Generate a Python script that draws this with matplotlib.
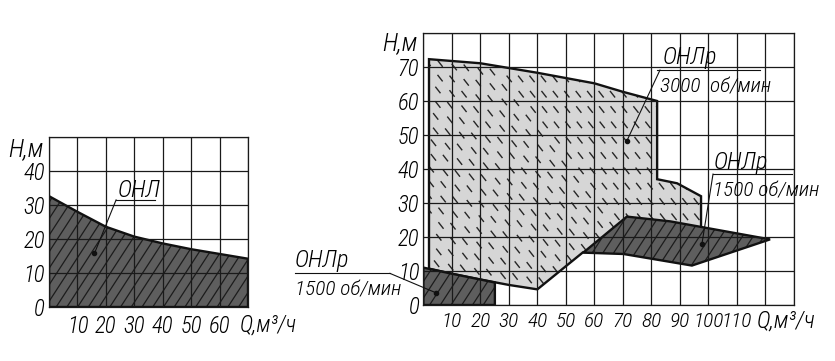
import numpy as np
import matplotlib
matplotlib.use('Agg')
from matplotlib import pyplot as plt
from matplotlib import font_manager
from matplotlib.patches import Polygon
from matplotlib.collections import LineCollection

# pick a narrow font if one is around, else shrink the sizes a bit
names = {f.name for f in font_manager.fontManager.ttflist}
narrow = [n for n in ['Liberation Sans Narrow', 'Roboto Condensed',
                      'Open Sans Condensed', 'DejaVu Sans Condensed'] if n in names]
if narrow:
    plt.rcParams['font.family'] = [narrow[0], 'DejaVu Sans']
    plt.rcParams['font.stretch'] = 'condensed'
    k = 0.92 if narrow[0] == 'DejaVu Sans Condensed' else 1.1
else:
    plt.rcParams['font.family'] = ['DejaVu Sans']
    k = 0.8
plt.rcParams['font.style'] = 'italic'
plt.rcParams['font.weight'] = 'light'

# Left chart: ОНЛ working field (Q, m3/h -> H, m)
onl_q = [0, 10, 20, 30, 40, 50, 60, 70]
onl_h = [32.6, 28.0, 23.6, 20.7, 18.7, 17.0, 15.6, 14.2]

# Right chart: ОНЛр at 3000 rpm (light field)
r3000_q = [2, 20, 40, 60, 70, 82, 82, 89, 97.4, 97.4, 56, 40, 30, 20, 10, 2]
r3000_h = [72.3, 71.1, 68.3, 65.2, 62.7, 60, 37, 35.8, 32, 22, 15.5, 4.6, 5.9, 7.5, 9.2, 10.7]

# ОНЛр at 1500 rpm, small field at low flow
r1500a_q = [0, 10, 20, 25.1, 25.1, 0]
r1500a_h = [11, 9.2, 7.5, 6.6, 0, 0]

# ОНЛр at 1500 rpm, field at high flow
r1500b_q = [56.1, 71.4, 86.6, 121.6, 94.2, 70.2]
r1500b_h = [15.4, 26.0, 24.6, 19.3, 11.6, 15.0]

left_xticks = [10, 20, 30, 40, 50, 60]
left_yticks = [0, 10, 20, 30, 40]
right_xticks = [10, 20, 30, 40, 50, 60, 70, 80, 90, 100, 110]
right_yticks = [0, 10, 20, 30, 40, 50, 60, 70]

W, H = 835, 361
fig = plt.figure(figsize=(W / 100, H / 100), dpi=100)
ax1 = fig.add_axes([49 / W, 1 - 307 / H, 199 / W, 170 / H])
ax2 = fig.add_axes([423.3 / W, 1 - 305 / H, 370.7 / W, 272 / H])

LIGHT = '#d6d6d6'
DARK = '#5e5e5e'


def setup(ax, xmax, ymax, xticks, yticks, xpad, xsize, ysize):
    ax.set_xlim(0, xmax)
    ax.set_ylim(0, ymax)
    xs = np.arange(0, xmax + 1, 10)
    ys = np.arange(0, ymax + 1, 10)
    ax.set_xticks(xs)
    ax.set_xticklabels([str(v) if v in xticks else '' for v in xs])
    ax.set_yticks(ys)
    ax.set_yticklabels([str(v) if v in yticks else '' for v in ys])
    ax.grid(True, color='#1a1a1a', lw=0.9)
    ax.set_axisbelow(False)
    ax.tick_params(length=0)
    ax.tick_params(axis='x', pad=xpad, labelsize=xsize)
    ax.tick_params(axis='y', pad=3, labelsize=ysize)
    for s in ax.spines.values():
        s.set_color('#1a1a1a')
        s.set_linewidth(0.9)


def hatch(ax, patch, angle, step, color, lw, z, dashes=None):
    pos = ax.get_position()
    aw = pos.width * W
    ah = pos.height * H
    t = np.radians(angle)
    d = np.array([np.cos(t), np.sin(t)])
    n = np.array([-np.sin(t), np.cos(t)])
    L = np.hypot(aw, ah)
    c = np.array([aw / 2, ah / 2])
    segs = []
    for i, off in enumerate(np.arange(-L / 2, L / 2, step)):
        shift = (i % 2) * 8 if dashes else 0
        p0 = c + off * n - d * (L / 2 + shift)
        p1 = c + off * n + d * L / 2
        segs.append([p0 / (aw, ah), p1 / (aw, ah)])
    lc = LineCollection(segs, colors=color, linewidths=lw,
                        transform=ax.transAxes, zorder=z)
    if dashes:
        lc.set_linestyle((0, dashes))
    lc.set_clip_path(patch)
    ax.add_collection(lc)


def field(ax, q, h, kind, z):
    pts = np.column_stack([q, h])
    if kind == 'light':
        p = Polygon(pts, closed=True, fc=LIGHT, ec='none', zorder=z)
        ax.add_patch(p)
        hatch(ax, p, -52, 9, '#262626', 1.0, z + 0.1, dashes=(6, 8))
    else:
        p = Polygon(pts, closed=True, fc=DARK, ec='none', zorder=z)
        ax.add_patch(p)
        hatch(ax, p, 57, 9.0, '#1c1c1c', 0.9, z + 0.1)
    ax.add_patch(Polygon(pts, closed=True, fill=False, ec='#111111',
                         lw=1.7, zorder=z + 0.2, joinstyle='miter'))


def leader(ax, x0, y0, x1, y1, ux0, ux1):
    ax.plot([ux0, ux1], [y0, y0], color='#111111', lw=0.8, clip_on=False, zorder=4)
    ax.plot([x0, x1], [y0, y1], color='#111111', lw=0.8, clip_on=False, zorder=4)
    ax.plot([x1], [y1], 'o', ms=3, color='#111111', clip_on=False, zorder=4)


setup(ax1, 70, 50, left_xticks, left_yticks, 6, 15 * k, 15 * k)
setup(ax2, 130, 80, right_xticks, right_yticks, 5, 14 * k, 15 * k)

# left chart
q_fill = list(onl_q) + [70, 0]
h_fill = list(onl_h) + [0, 0]
field(ax1, q_fill, h_fill, 'dark', 1.5)
leader(ax1, 23.6, 31.5, 16, 15.8, 23.6, 37.3)
ax1.text(24.0, 32.3, 'ОНЛ', fontsize=16 * k, ha='left', va='baseline')
ax1.text(-2.1, 46.5, 'H,м', fontsize=16.5 * k, ha='right', va='center', clip_on=False)
ax1.text(67.0, -5.4, 'Q,м³/ч', fontsize=15 * k, ha='left', va='center', clip_on=False)

# right chart
field(ax2, r3000_q, r3000_h, 'light', 1.0)
field(ax2, r1500a_q, r1500a_h, 'dark', 1.5)
field(ax2, r1500b_q, r1500b_h, 'dark', 1.5)

leader(ax2, 83.0, 69.1, 71.4, 48.3, 82.0, 118.0)
ax2.text(83.8, 70.8, 'ОНЛр', fontsize=16 * k, ha='left', va='baseline')
ax2.text(83.1, 62.4, '3000  об/мин', fontsize=14 * k, ha='left', va='baseline')

leader(ax2, 101.6, 38.5, 97.7, 17.9, 101.6, 129.3)
ax2.text(101.8, 40.0, 'ОНЛр', fontsize=16 * k, ha='left', va='baseline', clip_on=False)
ax2.text(101.6, 32.0, '1500 об/мин', fontsize=14 * k, ha='left', va='baseline', clip_on=False)

leader(ax2, -11.7, 9.3, 4.4, 3.6, -45.0, -11.7)
ax2.text(-45.0, 11.2, 'ОНЛр', fontsize=16 * k, ha='left', va='baseline', clip_on=False)
ax2.text(-45.0, 2.9, '1500 об/мин', fontsize=14 * k, ha='left', va='baseline', clip_on=False)

ax2.text(-1.9, 76.9, 'H,м', fontsize=16.5 * k, ha='right', va='center', clip_on=False)
ax2.text(116.8, -4.6, 'Q,м³/ч', fontsize=15.5 * k, ha='left', va='center', clip_on=False)

fig.savefig('out.png', dpi=100)
